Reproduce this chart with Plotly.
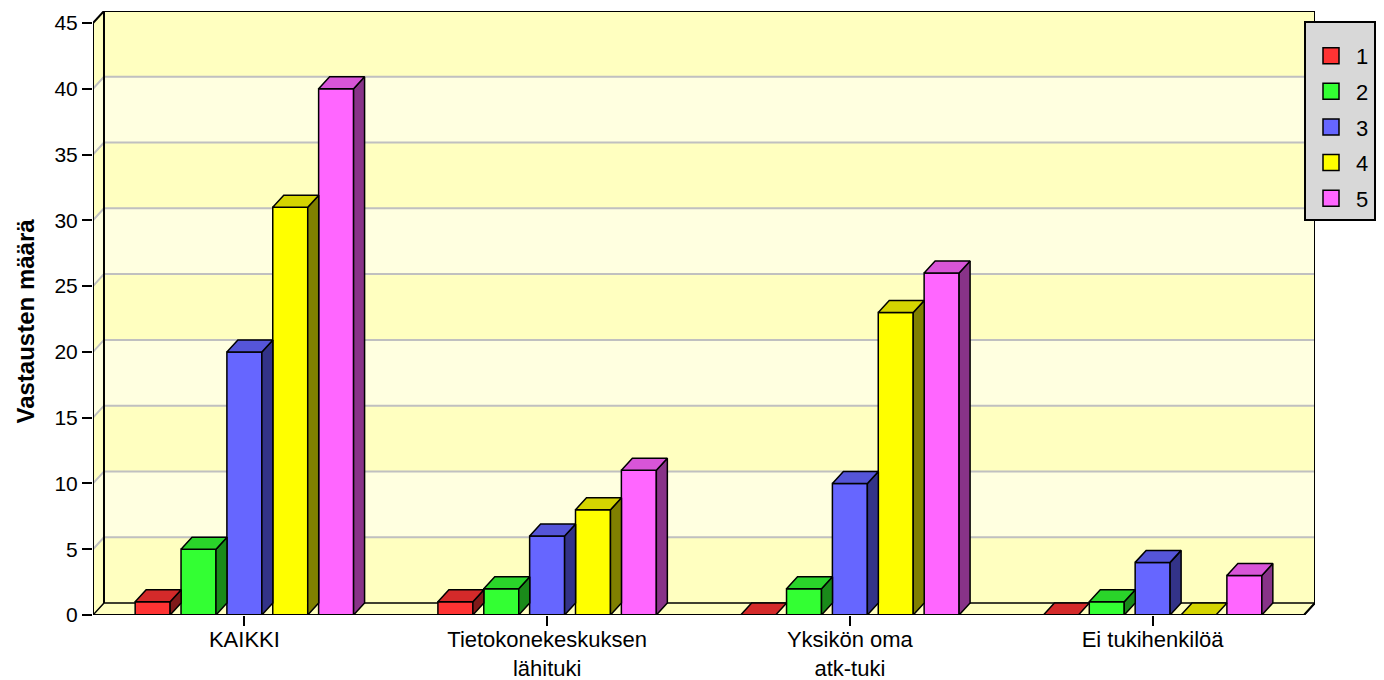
import plotly.graph_objects as go

# ---------------- data ----------------
categories = ["KAIKKI", "Tietokonekeskuksen<br>lähituki", "Yksikön oma<br>atk-tuki", "Ei tukihenkilöä"]
series_names = ["1", "2", "3", "4", "5"]
s1 = [1, 1, 0, 0]
s2 = [5, 2, 2, 1]
s3 = [20, 6, 10, 4]
s4 = [31, 8, 23, 0]
s5 = [40, 11, 26, 3]
series_values = [s1, s2, s3, s4, s5]
y_ticks = [0, 5, 10, 15, 20, 25, 30, 35, 40, 45]
y_title = "Vastausten määrä"

front_colors = ["#ff3333", "#33ff33", "#6666ff", "#ffff00", "#ff66ff"]
top_colors = ["#d42a2a", "#2ad42a", "#5555d8", "#d4d400", "#d855d8"]
side_colors = ["#801a1a", "#1a8a1a", "#333388", "#808000", "#883388"]

# ---------------- geometry (style) ----------------
step = 0.1515      # distance between bar centres within a group
bw = 0.1155        # bar front width
dx = 0.0363        # 3D depth offset (x, category units)
dy = 0.912         # 3D depth offset (y, value units)
ymax = 45
xlo, xhi = -0.5, len(categories) - 0.5

dark_band = "#ffffc0"
light_band = "#ffffe0"
grid_col = "#c0c0c0"
font_family = "Liberation Sans, Arial, sans-serif"

fig = go.Figure()

# front faces
for j, vals in enumerate(series_values):
    xs = [i + (j - 2) * step for i in range(len(categories))]
    fig.add_trace(go.Bar(
        x=xs, y=vals, width=bw, showlegend=False,
        marker=dict(color=front_colors[j], line=dict(color="black", width=1.5)),
        hoverinfo="skip",
    ))

# top and side faces
for j, vals in enumerate(series_values):
    tx, ty, sx, sy = [], [], [], []
    for i, v in enumerate(vals):
        x0 = i + (j - 2) * step - bw / 2
        x1 = x0 + bw
        tx += [x0, x0 + dx, x1 + dx, x1, x0, None]
        ty += [v, v + dy, v + dy, v, v, None]
        if v > 0:
            sx += [x1, x1 + dx, x1 + dx, x1, x1, None]
            sy += [0, dy, v + dy, v, 0, None]
    fig.add_trace(go.Scatter(x=sx, y=sy, mode="lines", fill="toself",
                             fillcolor=side_colors[j], line=dict(color="black", width=1.5),
                             showlegend=False, hoverinfo="skip"))
    fig.add_trace(go.Scatter(x=tx, y=ty, mode="lines", fill="toself",
                             fillcolor=top_colors[j], line=dict(color="black", width=1.5),
                             showlegend=False, hoverinfo="skip"))

# legend entries
for j, name in enumerate(series_names):
    fig.add_trace(go.Scatter(
        x=[None], y=[None], mode="markers", name=name, legendgroup=name,
        marker=dict(symbol="square", size=16, color=front_colors[j],
                    line=dict(color="black", width=1.5)),
    ))

# ---------------- walls / floor ----------------
shapes = []
for k in range(len(y_ticks) - 1):
    y0, y1 = y_ticks[k], y_ticks[k + 1]
    col = dark_band if k % 2 == 0 else light_band
    shapes.append(dict(type="rect", xref="x", yref="y", x0=xlo + dx, x1=xhi + dx,
                       y0=y0 + dy, y1=y1 + dy, fillcolor=col, line=dict(width=0), layer="below"))
    shapes.append(dict(type="path", xref="x", yref="y",
                       path=f"M{xlo},{y0} L{xlo+dx},{y0+dy} L{xlo+dx},{y1+dy} L{xlo},{y1} Z",
                       fillcolor=col, line=dict(width=0), layer="below"))
# floor
shapes.append(dict(type="path", xref="x", yref="y",
                   path=f"M{xlo},0 L{xhi},0 L{xhi+dx},{dy} L{xlo+dx},{dy} Z",
                   fillcolor=dark_band, line=dict(color="black", width=1.5), layer="below"))
# grid lines
for v in y_ticks[1:-1]:
    shapes.append(dict(type="path", xref="x", yref="y",
                       path=f"M{xlo},{v} L{xlo+dx},{v+dy} L{xhi+dx},{v+dy}",
                       line=dict(color=grid_col, width=2), layer="below"))
# back wall outline + left wall top edge
shapes.append(dict(type="path", xref="x", yref="y",
                   path=f"M{xlo+dx},{dy} L{xlo+dx},{ymax+dy} L{xhi+dx},{ymax+dy} L{xhi+dx},{dy}",
                   line=dict(color="black", width=2), layer="below"))
shapes.append(dict(type="path", xref="x", yref="y",
                   path=f"M{xlo},{ymax} L{xlo+dx},{ymax+dy}",
                   line=dict(color="black", width=2), layer="below"))
# front axis lines
shapes.append(dict(type="path", xref="x", yref="y",
                   path=f"M{xlo},0 L{xlo},{ymax}", line=dict(color="black", width=2), layer="above"))
shapes.append(dict(type="path", xref="x", yref="y",
                   path=f"M{xlo},0 L{xhi},0 L{xhi+dx},{dy}", line=dict(color="black", width=2), layer="above"))

fig.update_layout(
    width=1376, height=672,
    margin=dict(l=85, r=69, t=3, b=65, autoexpand=False),
    paper_bgcolor="white", plot_bgcolor="white",
    barmode="overlay",
    font=dict(family=font_family, size=21, color="black"),
    shapes=shapes,
    showlegend=True,
    legend=dict(x=0.991, y=0.983, xanchor="left", yanchor="top",
                bgcolor="#d8d8d8", bordercolor="black", borderwidth=2,
                font=dict(size=22, family=font_family), tracegroupgap=4,
                title=dict(text="&nbsp;", font=dict(size=9)),
                itemwidth=40, itemclick=False),
    annotations=[dict(text=f"<b>{y_title}</b>", textangle=-90,
                      xref="paper", yref="paper", x=-0.0556, y=0.486,
                      xanchor="center", yanchor="middle", showarrow=False,
                      font=dict(size=24, family=font_family))],
    xaxis=dict(range=[xlo, xhi + dx], tickmode="array",
               tickvals=list(range(len(categories))), ticktext=categories,
               ticks="outside", ticklen=10, tickwidth=2, tickcolor="black",
               tickfont=dict(size=22), ticklabelstandoff=-5,
               showgrid=False, zeroline=False, showline=False, fixedrange=True),
    yaxis=dict(range=[0, ymax + dy], tickmode="array", tickvals=y_ticks,
               ticks="outside", ticklen=10, tickwidth=2, tickcolor="black",
               showgrid=False, zeroline=False, showline=False, fixedrange=True),
)

fig.write_html("out.html")
